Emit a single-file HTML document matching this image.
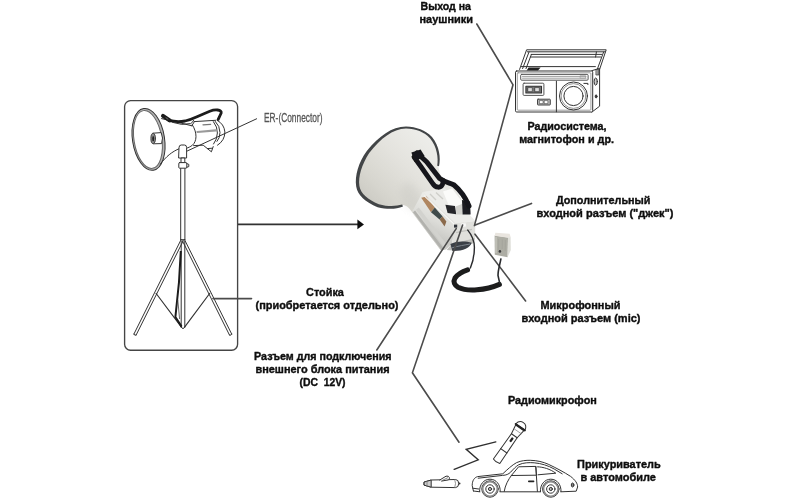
<!DOCTYPE html>
<html lang="ru">
<head>
<meta charset="utf-8">
<title>Схема подключения мегафона</title>
<style>
html,body{margin:0;padding:0;background:#fff;}
body{width:800px;height:500px;overflow:hidden;position:relative;font-family:"Liberation Sans",sans-serif;}
svg{position:absolute;left:0;top:0;display:block;}
.t{font-family:"Liberation Sans",sans-serif;font-weight:bold;font-size:11px;fill:#1a1a1a;text-anchor:middle;}
.t2{font-family:"Liberation Sans",sans-serif;font-weight:bold;font-size:11px;fill:#111;stroke:#111;stroke-width:0.4px;stroke-linejoin:round;}
.ln{stroke:#4c4c4c;stroke-width:1.6;fill:none;stroke-linecap:round;}
.d{stroke:#333;stroke-width:1;fill:none;stroke-linecap:round;stroke-linejoin:round;}
.dw{stroke:#333;stroke-width:1;fill:#fff;stroke-linecap:round;stroke-linejoin:round;}
</style>
</head>
<body>
<svg width="800" height="500" viewBox="0 0 800 500">
<defs>
<filter id="soft" x="-5%" y="-5%" width="110%" height="110%"><feGaussianBlur stdDeviation="0.45"/></filter>
<filter id="soft2" x="-5%" y="-5%" width="110%" height="110%"><feGaussianBlur stdDeviation="0.5"/></filter>
<filter id="blur3" x="-50%" y="-50%" width="200%" height="200%"><feGaussianBlur stdDeviation="3.5"/></filter>
<filter id="tsoft" x="-2%" y="-2%" width="104%" height="104%"><feGaussianBlur stdDeviation="0.3"/></filter>
</defs>

<!-- ===== LEFT BOX ===== -->
<g id="leftbox" filter="url(#soft)">
<rect x="124.6" y="100.6" width="113" height="249.6" rx="6" ry="6" fill="#fff" stroke="#444" stroke-width="1.35"/>
<!-- tripod stand -->
<g class="d" stroke="#555" stroke-width="1.15">
<path d="M180.7 168 L180.7 239.6 M184.9 168 L184.9 239.6" />
<path d="M180.7 239.6 L184.9 239.6" stroke-width="0.9"/>
<path d="M181.2 241 L181.2 327 M184.8 241 L184.8 327 M181.2 327 Q183 330.4 184.8 327"/>
<path d="M181.1 239.6 L133.9 334.1 M183.3 240.6 L136.1 335.1 M133.9 334.1 Q134.4 336 136.1 335.1"/>
<path d="M184.5 239.6 L231.7 334.1 M182.3 240.6 L229.5 335.1 M231.7 334.1 Q231.2 336 229.5 335.1"/>
</g>
<path d="M155.8 293 L181.6 327.4 M210 293 L184.4 327.4" fill="none" stroke="#333" stroke-width="1.15"/>
<path d="M180.8 251 L179 282 L175.4 317 L181.6 326.6" fill="none" stroke="#1a1a1a" stroke-width="2" stroke-linejoin="round"/>
<path d="M177.8 300 L179.6 319" fill="none" stroke="#444" stroke-width="0.8"/>
<!-- megaphone drawing -->
<g class="d" stroke="#4a4a4a" stroke-width="1.1">
<g transform="rotate(-9 148.3 139.2)">
<ellipse cx="148.5" cy="139.4" rx="16" ry="31.2" fill="#b4b4b4"/>
<ellipse cx="147.9" cy="139.4" rx="13.9" ry="29.2" fill="#fff" stroke="#666"/>
</g>
<!-- mouthpiece -->
<path fill="#fff" d="M153 133.2 L161.2 132.6 Q163.6 138 161.6 143.6 L153.6 143.8"/>
<ellipse cx="153.2" cy="138.5" rx="2.3" ry="5.2" fill="#8a8a8a" stroke="#444"/>
<ellipse cx="153.2" cy="138.6" rx="1" ry="2.7" fill="#222" stroke="none"/>
<!-- cone edges -->
<path d="M161.6 118.6 Q176 121.6 191.8 125.8"/>
<!-- body -->
<path d="M194.4 121.6 L215.6 120.3"/>
<path d="M191.8 125.8 L194.4 121.6 M192.4 125 C197.6 133 196.8 141.6 192.4 145.2 C190.4 146.8 188.4 147.6 186.6 148.2"/>
<path d="M217 120.2 Q224.2 124 224.9 132 Q224.8 140.6 217.5 145.2"/>
<path d="M215.3 121.4 Q220 126 220 132.6 Q219.8 138.4 217 141.4"/>
<path d="M213.4 121.6 Q217.6 127 217.4 133 Q217 139.6 213.6 144"/>
<path d="M193.6 145.6 L203.2 145.2 L211.4 151.8 L213.2 146.6 M207.4 148.6 L212.2 148.2"/>
<path stroke="#9a9a9a" stroke-width="2.2" d="M197.4 132 L216 130.4"/>
<path stroke="#777" stroke-width="1.3" d="M203 124.8 L210.6 124.4"/>
</g>
<!-- strap -->
<path d="M169 120.4 Q177 122.4 185 121 Q191 119.6 197 116.8 Q204 113.6 209.8 111.2 Q214 109.6 217.6 110 Q221.8 110.6 221.2 113 L218.2 119.4" fill="none" stroke="#1a1a1a" stroke-width="2.8" stroke-linecap="round" stroke-linejoin="round"/>
<path d="M163 115.8 L169.6 120.4" fill="none" stroke="#1a1a1a" stroke-width="4" stroke-linecap="round"/>
<path d="M166 117.8 L168 119.2" fill="none" stroke="#777" stroke-width="0.9" stroke-linecap="round"/>
<path class="d" stroke="#4a4a4a" stroke-width="1.1" d="M172.6 122.4 Q182 125.8 190.6 123.6 Q193 122.4 193.6 120.4"/>
<!-- ER leader + cone bottom edge -->
<path class="d" stroke="#3c3c3c" stroke-width="1.4" d="M256.6 118.8 L186.8 151.2"/>
<path class="d" stroke="#4a4a4a" stroke-width="1.2" d="M160.4 164 C166 156.6 172 151.6 179.4 148.6"/>
<!-- stand head -->
<path class="dw" stroke="#444" stroke-width="1.1" d="M179 147.4 Q179 145 181.2 145 L184.4 145 Q186.6 145 186.6 147.4 L186.6 158 L179 158 Z"/>
<path class="dw" stroke="#444" stroke-width="1.1" d="M181.4 158 L184.8 158 L184.8 162.6 L181.4 162.6 Z"/>
<path class="dw" stroke="#444" stroke-width="1.1" d="M179.6 162.6 L186 162.6 Q186.8 162.6 186.8 163.4 L186.8 167.4 Q186.8 168.2 186 168.2 L179.6 168.2 Q178.8 168.2 178.8 167.4 L178.8 163.4 Q178.8 162.6 179.6 162.6 Z M186.8 163.6 L188.8 164.4 L188.8 166.6 L186.8 167.2"/>
</g>

<!-- ===== CENTRAL MEGAPHONE (photo-like) ===== -->
<defs>
<linearGradient id="hornG" gradientUnits="userSpaceOnUse" x1="432" y1="136" x2="366" y2="206">
<stop offset="0" stop-color="#eeeeeb"/><stop offset="0.4" stop-color="#e4e3de"/><stop offset="0.75" stop-color="#d7d6cf"/><stop offset="1" stop-color="#c9c8c1"/>
</linearGradient>
<linearGradient id="sideG" gradientUnits="userSpaceOnUse" x1="440" y1="200" x2="425" y2="232">
<stop offset="0" stop-color="#ecece8"/><stop offset="0.6" stop-color="#dcdcd8"/><stop offset="1" stop-color="#c9c9c5"/>
</linearGradient>
</defs>
<g id="mega" filter="url(#soft2)">
<!-- horn + neck silhouette -->
<path d="M438 166 C440 158 438 146 430 138 C424 132 416 128 406 127.8 C392 128 380 137 368 152 C360 163 356 176 357.6 186 C359 194 366 200 378 205.4 C388 208 396 207.6 402 205 C406 205 409 207.6 412 212 L441 250.5 L455 236 L470 214 L453 184.6 L441 177 Z" fill="url(#hornG)"/>
<ellipse cx="411" cy="197" rx="9" ry="15" transform="rotate(-25 411 197)" fill="#b9b9b4" opacity="0.22" filter="url(#blur3)"/>
<!-- rim dark -->
<path d="M439 166.2 C441 158 439.4 146 432 137 C425.4 130.4 416.4 126.8 406 126.6 C391.6 126.8 379.4 136 366.8 151 C358.6 162 354.6 176 356.2 186.4 C357.6 195.2 365.4 201.8 377.6 207.2 C388 209.8 396.4 209.2 403 206.4 L402.2 204.6 C396 206.4 388 206.8 378.8 204.2 C368 199.6 360.6 193.6 359.4 186 C358 176.6 361.8 164.4 369.2 153 C381 138.4 392.4 129 406 128.6 C415.8 128.8 424 132 430.2 138.4 C436.8 146.6 438.6 157.6 437.2 165.8 Z" fill="#434547"/>
<!-- body side face -->
<path d="M422.7 192 L455.6 223.4 L452 243.6 L446 249.6 L441 250.5 L412 212 Z" fill="url(#sideG)"/>
<!-- body top face -->
<path d="M422.7 192 L445 188.2 L475.4 221 L455.6 223.4 Z" fill="#ecece9"/>
<!-- back face -->
<path d="M455.6 223.4 L475.4 221 L475 238 L452 243.6 Z" fill="#e0e0dc"/>
<path d="M452 243.6 L475 238 L474 243 L452.6 250.6 L446.6 250 Z" fill="#bfbfbb"/>
<!-- label strip -->
<path d="M421.2 197.8 L426.6 196.6 L434.8 207.4 L431 212.2 Z" fill="#b08660"/>
<path d="M431 212.2 L434.8 207.4 L442.6 216.6 L439.6 219.6 Z" fill="#3f4c4c"/>
<path d="M439.6 219.6 L442.6 216.6 L446.4 221.4 L444.6 226.4 Z" fill="#8b6a4c"/>
<!-- side shading stripes -->
<path d="M417.4 208.6 L446 246.6" stroke="#d2d2ce" stroke-width="3.6" fill="none"/>
<path d="M414 211.4 L442.4 249" stroke="#b2b2ae" stroke-width="2.6" fill="none"/>
<path d="M424 195.6 L454.6 224.6" stroke="#f7f7f5" stroke-width="1.2" fill="none"/>
<!-- handle block -->
<path d="M443 191.6 L452 188.4 L462.4 202 L460 208 L449 206 Z" fill="#fbfbf9"/>
<path d="M445.4 204.8 L455 206 L456.2 214.2 L447.6 213 Z" fill="#25272b"/>
<path d="M455.6 206.4 L462 204 L462.6 214.4 L456.4 214.4 Z" fill="#d2d2ce"/>
<path d="M462 200 L470 201.4 L470.6 214.6 L462.6 214.6 Z" fill="#1b1c20"/>
<path d="M436 192.4 L443 199 M430 194 L436 200" stroke="#cfcfca" stroke-width="1.4" fill="none"/>
<!-- back details -->
<rect x="454" y="224.6" width="3.2" height="3" fill="#33363a"/>
<rect x="461.4" y="223.4" width="4.4" height="3.2" fill="#fbfbfa"/>
<path d="M456 232.6 L472 229.4" stroke="#c4c4c0" stroke-width="1.4" fill="none"/>
<!-- grip -->
<path d="M450.4 244 C456 241 466 240.8 471.6 242.8 C470.6 248 462 251.4 452.4 251 Z" fill="#3a3f46"/>
<path d="M452 247.8 C458 246 465 245 470 244" stroke="#7d848c" stroke-width="1" fill="none"/>
<!-- strap -->
<path d="M417 153 L426.8 162 L439.8 178.6 C445 182.6 450 182.6 454 185 C460 190 465.6 198 469 206" fill="none" stroke="#17181a" stroke-width="5" stroke-linecap="round" stroke-linejoin="round"/>
<path d="M414 157 L421.2 167 L432.6 183.4 C435.6 188 440.6 188.6 442.4 184.6 L443.4 180.6" fill="none" stroke="#17181a" stroke-width="4.8" stroke-linecap="round" stroke-linejoin="round"/>
<path d="M411.4 152.4 L420.6 149.6 L424.6 156 L414.6 162 Z" fill="#17181a"/>
</g>

<!-- ===== ARROW ===== -->
<g id="arrow" filter="url(#soft)">
<line x1="238" y1="224.4" x2="358" y2="224.4" stroke="#333" stroke-width="1.6"/>
<path d="M357.4 219.6 L364 224.4 L357.4 229.2 Z" fill="#111"/>
</g>

<!-- ===== LEADER LINES ===== -->
<g id="leaders" filter="url(#soft)">
<path class="ln" d="M476.8 24 L513 84.8 L474.4 225.6"/>
<path class="ln" d="M531.5 203.4 L475.2 225"/>
<path class="ln" d="M475 234.2 L525.6 301"/>
<path class="ln" d="M456.2 228.6 L376.8 350"/>
<path class="ln" d="M462.6 225 L412.4 372.8 L459 442.2"/>
<path class="ln" d="M213 298.6 L251.5 298.6"/>
</g>

<!-- ===== RADIO ===== -->
<g id="radio" filter="url(#soft)" transform="translate(0.5 0.8)">
<g class="d" stroke="#444" stroke-width="1">
<!-- lid -->
<path fill="#fff" d="M519.1 68.6 L526.1 49.0 L605.7 49.0 L598.7 69.8"/>
<path d="M526.9 51.0 L604.5 51.0"/>
<path d="M530.7 53.6 L601.1 53.6"/>
<path stroke="#777" stroke-width="1.3" d="M529.9 56.2 L600.1 56.2"/>
<path d="M528.5 51.2 L522.1 67.8 M530.9 53.6 L525.5 67.8"/>
<path d="M603.1 51.2 L596.9 68.2 M595.9 51.2 L595.1 56.2"/>
<!-- top face + side -->
<path d="M520.9 65.8 L594.9 65.8"/>
<path fill="#fff" d="M591.5 69.8 L599.1 67.6 L599.1 105.4 L591.5 111.2 Z"/>
<path fill="#222" stroke="none" d="M528.1 66.8 L540.1 66.8 L537.5 69.8 L526.1 69.8 Z"/>
<!-- front -->
<rect x="515" y="70.2" width="77.2" height="41" rx="1.2" fill="#fff"/>
<rect x="516.8" y="72" width="73.6" height="37.4" rx="0.8" stroke="#777" stroke-width="0.7"/>
<!-- display bar -->
<rect x="520.2" y="73.6" width="67.4" height="5.8" rx="1" stroke="#555"/>
<path stroke="#888" stroke-width="0.8" d="M522 75.6 L585.6 75.6 M522 77.4 L585.6 77.4"/>
<rect x="580" y="74.8" width="5" height="2.6" stroke="#999" stroke-width="0.6"/>
<!-- divider -->
<path d="M555.9 80.4 L555.9 111"/>
<!-- cassette -->
<rect x="522.6" y="82.4" width="20.8" height="12.2" rx="1" stroke="#555"/>
<rect x="525.4" y="85.4" width="15.6" height="6.8" fill="#777" stroke="#333" stroke-width="1.1"/>
<rect x="527.6" y="86.8" width="4.2" height="4" fill="#ddd" stroke="#333" stroke-width="0.6"/>
<rect x="534.6" y="86.8" width="4.2" height="4" fill="#ddd" stroke="#333" stroke-width="0.6"/>
<!-- small plate -->
<rect x="537" y="98.4" width="12.8" height="5.8" rx="0.6" fill="#bbb" stroke="#444"/>
<rect x="539.2" y="99.8" width="3.4" height="3" fill="#fff" stroke="#444" stroke-width="0.6"/>
<rect x="544" y="99.8" width="3.4" height="3" fill="#fff" stroke="#444" stroke-width="0.6"/>
<!-- speaker -->
<circle cx="573" cy="95.2" r="14"/>
<circle cx="573" cy="95.2" r="12.4" stroke="#777" stroke-width="0.8"/>
<circle cx="573" cy="95.2" r="9.6"/>
<path d="M583.4 82.6 L587.4 82.6 L587.4 83.8"/>
<!-- side knobs -->
<ellipse cx="595.2" cy="80.8" rx="1.6" ry="3.6" fill="#ccc"/>
<ellipse cx="595.6" cy="95.6" rx="0.9" ry="1.6" fill="#333"/>
<rect x="595.8" y="68.6" width="2.6" height="5.6" fill="#999" stroke="#333" stroke-width="0.7"/>
</g>
</g>

<!-- ===== WIRED MIC + COIL ===== -->
<g id="wiredmic" filter="url(#soft2)">
<path d="M467.4 229.6 C471 234 474.4 240 474.4 247.2 C474.4 254 473.4 261 470.2 268.6" fill="none" stroke="#2a2b2e" stroke-width="1.4"/>
<path d="M467.6 269.8 C462 271.6 457.4 274.4 455 278 C452.8 282 454.6 285.4 458 287.2 C464 290.2 472 290.2 477 289.8 C485 289.2 493 287.2 499.4 284.4" fill="none" stroke="#1b1c1f" stroke-width="5" stroke-linecap="round"/>
<path d="M501 258.4 C500 264 498 270 498 275.4 L499.8 283.6" fill="none" stroke="#2a2b2e" stroke-width="1.6"/>
<path d="M494.6 235.6 L508 237.6 L507.6 257.2 L494.8 254.8 Z" fill="#adada4"/>
<path d="M495.4 232.8 L509.6 233.8 L510.6 237 L508 237.8 L494.6 235.8 Z" fill="#e9e5df"/>
<path d="M508 237.6 L510.6 237 L510.8 250 L507.6 257.2 Z" fill="#deded8"/>
<path d="M498.6 239 L498.4 250 M502.4 239.6 L502.2 249 M505.4 240 L505.2 251" stroke="#a6a69e" stroke-width="1.2" fill="none"/>
<path d="M496 237 L496 253" stroke="#c9c9c1" stroke-width="1.2" fill="none"/>
<circle cx="499.9" cy="251.4" r="1.3" fill="#3a3a3a"/>
</g>

<!-- ===== LIGHTNING, RADIO MIC, CAR, PLUG ===== -->
<g id="bottom" filter="url(#soft)">
<path d="M495.8 441.9 L466.2 449.4 L478.2 459.8 L454.2 469.4" fill="none" stroke="#2f2f2f" stroke-width="1.4" stroke-linejoin="miter" stroke-linecap="round"/>
<!-- wireless mic -->
<g class="d" stroke="#3a3a3a" transform="translate(496.6 461.2) rotate(34.8)">
<path fill="#fff" d="M-3.9 0 L-3.5 -31 L-5 -40.6 L5 -40.6 L3.5 -31 L3.9 0 Q0 1.6 -3.9 0 Z"/>
<path d="M-3.8 -12.6 L3.8 -12.6 M-3.5 -31 L3.5 -31"/>
<rect x="-1.2" y="-28.6" width="2.4" height="5" rx="0.8" fill="#222" stroke="none"/>
<path fill="#fff" d="M-5.6 -41.6 A5.7 6.6 0 0 1 5.6 -41.6 Z"/>
<path d="M-5.6 -41.4 L5.6 -41.4" stroke="#222" stroke-width="1.9"/>
<path d="M-4.4 -36.6 L4.4 -36.6" stroke="#888" stroke-width="0.7"/>
</g>
<!-- car -->
<g class="d" stroke="#444" stroke-width="1.15" transform="translate(0.2 0.6)">
<path fill="#fff" d="M473.2 490.4 L472 485 C472 480 474 477 477.4 476 L502.6 473.2 C507 469 512 464.4 516.4 462 C521 460 526 459.6 530 459.7 C537 459.8 543 461.4 548 463.6 C556 467.4 564 471.6 570.4 475.8 C575 479.4 577.6 483 577.4 486.4 L576 490.6 L560.6 491.2 M540.4 491.2 L499.8 491.2 M479.6 491.2 L473.2 490.4"/>
<path d="M478 477.6 L502.4 474.8 C506 474.6 508.4 473.6 510.4 471.6 C513 468.6 516 465.6 518.4 464.2 C523 462 529 461.8 534 462.2 C541 462.8 548 465 554 468.4 L562 473.2"/>
<path d="M511.4 474.6 C508 479 505 484.6 504 490.8"/>
<path d="M511.4 474.6 L518.4 466.2 L535.6 465.8 L536.2 474.2 Z"/>
<path d="M535.6 465.8 L537.2 490.8"/>
<path d="M537.4 466.2 C543 466.4 550 468.4 555.6 472.6 L537.8 474.2"/>
<path d="M528.6 480.8 L533.4 480.8" stroke="#222" stroke-width="1.6"/>
<ellipse cx="572.4" cy="484.4" rx="1.3" ry="2" fill="#888"/>
<path d="M472.6 487.6 L478.4 488.4"/>
<path d="M479.4 491 C479 484 483.6 478.6 489.8 478.6 C496 478.6 500.4 484 500 491"/>
<path d="M540.2 491 C539.8 484 544.4 478.6 550.6 478.6 C556.8 478.6 561.2 484 560.8 491"/>
<circle cx="489.8" cy="488.4" r="8.2" fill="#fff"/><circle cx="489.8" cy="488.4" r="7.2" stroke="#8a8a8a" stroke-width="1.5"/><circle cx="489.8" cy="488.4" r="4.2"/><circle cx="489.8" cy="488.4" r="1.6" fill="#bbb"/>
<circle cx="550.6" cy="488.4" r="8.2" fill="#fff"/><circle cx="550.6" cy="488.4" r="7.2" stroke="#8a8a8a" stroke-width="1.5"/><circle cx="550.6" cy="488.4" r="4.2"/><circle cx="550.6" cy="488.4" r="1.6" fill="#bbb"/>
</g>
<!-- lighter plug -->
<g class="d" stroke="#444" stroke-width="1.1">
<path fill="#fff" d="M424.4 482 L431.2 480 L455.6 479.5 Q458.7 479.7 458.7 483.5 Q458.7 487.3 455.6 487.6 L431.2 487.2 L424.4 485.2 Z"/>
<path fill="#cfcfcf" d="M424.4 482 L431.2 480 L431.2 487.2 L424.4 485.2 Z"/>
<path d="M427 481.4 L427 485.8" stroke="#777" stroke-width="0.8"/>
<path d="M454.8 479.6 Q456.4 483.5 454.8 487.5" stroke="#777" stroke-width="0.8"/>
<path fill="#fff" d="M439.8 480 L446 476.2 Q448.6 475.6 449.3 477.4 Q449.8 479.2 448.6 479.8 L441.6 481.1"/>
<path d="M442.4 480.4 L447.6 477.8" stroke="#666" stroke-width="0.8"/>
<circle cx="459.5" cy="483.5" r="1" fill="#333" stroke="none"/>
</g>
</g>

<!-- ===== TEXT ===== -->
<g id="labels" filter="url(#tsoft)">
<text class="t2" x="420.5" y="9.5" textLength="50.5" lengthAdjust="spacingAndGlyphs">Выход на</text>
<text class="t2" x="419.5" y="22.5" textLength="53.5" lengthAdjust="spacingAndGlyphs">наушники</text>
<text class="t2" x="527.5" y="130.0" textLength="79.0" lengthAdjust="spacingAndGlyphs">Радиосистема,</text>
<text class="t2" x="519.2" y="143.2" textLength="94.8" lengthAdjust="spacingAndGlyphs">магнитофон и др.</text>
<text class="t2" x="555.9" y="204.0" textLength="94.6" lengthAdjust="spacingAndGlyphs">Дополнительный</text>
<text class="t2" x="536.5" y="217.0" textLength="137.0" lengthAdjust="spacingAndGlyphs">входной разъем ("джек")</text>
<text class="t2" x="540.5" y="309.0" textLength="80.0" lengthAdjust="spacingAndGlyphs">Микрофонный</text>
<text class="t2" x="521.5" y="322.0" textLength="119.0" lengthAdjust="spacingAndGlyphs">входной разъем (mic)</text>
<text class="t2" x="306.1" y="295.6" textLength="37.8" lengthAdjust="spacingAndGlyphs">Стойка</text>
<text class="t2" x="255.5" y="308.6" textLength="143.0" lengthAdjust="spacingAndGlyphs">(приобретается отдельно)</text>
<text class="t2" x="254.1" y="359.6" textLength="137.4" lengthAdjust="spacingAndGlyphs">Разъем для подключения</text>
<text class="t2" x="255.5" y="373.0" textLength="134.0" lengthAdjust="spacingAndGlyphs">внешнего блока питания</text>
<text class="t2" x="299.5" y="386.0" textLength="46.0" lengthAdjust="spacingAndGlyphs" xml:space="preserve">(DC  12V)</text>
<text class="t2" x="508.0" y="404.2" textLength="88.8" lengthAdjust="spacingAndGlyphs">Радиомикрофон</text>
<text class="t2" x="577.1" y="468.0" textLength="83.6" lengthAdjust="spacingAndGlyphs">Прикуриватель</text>
<text class="t2" x="580.5" y="481.0" textLength="75.3" lengthAdjust="spacingAndGlyphs">в автомобиле</text>
<text x="264" y="122" font-family="'Liberation Sans',sans-serif" font-size="12.5" fill="#555" stroke="#555" stroke-width="0.3" textLength="58.5" lengthAdjust="spacingAndGlyphs">ER-(Connector)</text>
</g>
</svg>
</body>
</html>
